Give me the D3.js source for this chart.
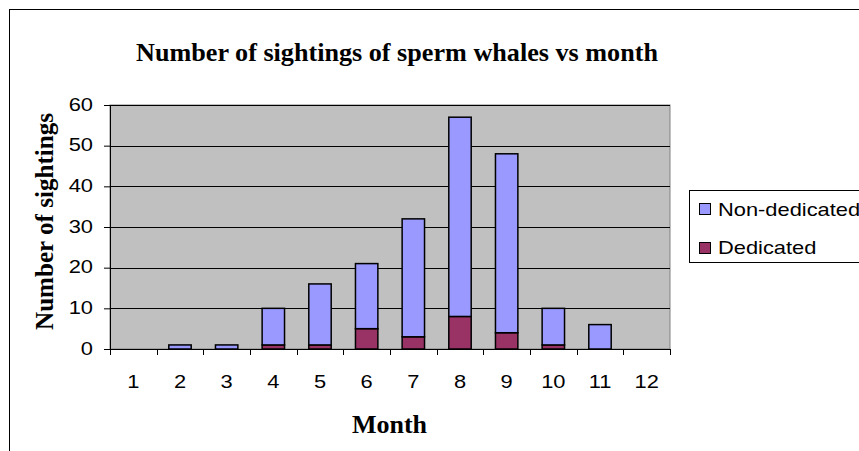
<!DOCTYPE html>
<html><head><meta charset="utf-8">
<script src="https://cdn.jsdelivr.net/npm/d3@7"></script>
<style>body{margin:0;background:#fff}svg{display:block}</style>
</head><body>
<svg id="c" width="859" height="451"></svg>
<script>
const months = ["1","2","3","4","5","6","7","8","9","10","11","12"];
const dedicated = [0,0,0,1,1,5,3,8,4,1,0,0];
const nonDedicated = [0,1,1,9,15,16,29,49,44,9,6,0];
const yTicks = [0,10,20,30,40,50,60];
const seriesNames = ["Non-dedicated","Dedicated"];
const colors = {"Dedicated":"#993366","Non-dedicated":"#9999FF"};

const svg = d3.select("#c");
const L=110, R=670, T=105, B=349;
const sans = "Liberation Sans, Arial, sans-serif";
const stretch = sel => sel.each(function(){
  const w = this.getComputedTextLength();
  d3.select(this).attr("textLength", w*1.15).attr("lengthAdjust","spacingAndGlyphs");
});

svg.append("rect").attr("x",9.5).attr("y",9.5).attr("width",900).attr("height",500)
  .attr("fill","#fff").attr("stroke","#000").attr("stroke-width",1);

const x = d3.scaleBand().domain(months).range([L,R]).paddingInner(0.52).paddingOuter(0.26);
const xb = d3.scaleBand().domain(months).range([L,R]);
const y = d3.scaleLinear().domain([0,60]).range([B,T]);

svg.append("rect").attr("x",L).attr("y",T).attr("width",R-L).attr("height",B-T)
  .attr("fill","#C0C0C0").attr("stroke","#808080").attr("stroke-width",1);

svg.append("g").selectAll("line").data(yTicks.filter(d=>d>0)).join("line")
  .attr("x1",L).attr("x2",R).attr("y1",d=>Math.round(y(d))+0.5).attr("y2",d=>Math.round(y(d))+0.5)
  .attr("stroke","#000").attr("stroke-width",1);

const data = months.map((m,i)=>({m, ded:dedicated[i], non:nonDedicated[i]}));
const stack = d3.stack().keys(["ded","non"])(data);
const keyName = {ded:"Dedicated", non:"Non-dedicated"};
stack.forEach(s=>{
  svg.append("g").selectAll("rect").data(s.filter(d=>d[1]-d[0]>0)).join("rect")
    .attr("x",d=>x(d.data.m)).attr("width",x.bandwidth())
    .attr("y",d=>y(d[1])).attr("height",d=>y(d[0])-y(d[1]))
    .attr("fill",colors[keyName[s.key]]).attr("stroke","#000").attr("stroke-width",1.5);
});

// axes
const yAxis = d3.axisLeft(y).tickValues(yTicks).tickSize(6).tickPadding(11);
const gy = svg.append("g").attr("transform",`translate(${L},0)`).call(yAxis);
gy.select(".domain").attr("stroke","#000");
gy.selectAll("text").attr("font-family",sans).attr("font-size",19).attr("fill","#000").attr("dy","0.28em").call(stretch);

const gx = svg.append("g").attr("transform",`translate(0,${B})`);
gx.append("line").attr("x1",L).attr("x2",R).attr("y1",0.5).attr("y2",0.5).attr("stroke","#000");
gx.selectAll("line.t").data(months.concat(["end"])).join("line").attr("class","t")
  .attr("x1",(d,i)=>Math.round(L+i*xb.bandwidth())+0.5).attr("x2",(d,i)=>Math.round(L+i*xb.bandwidth())+0.5)
  .attr("y1",0).attr("y2",6).attr("stroke","#000");
gx.selectAll("text").data(months).join("text")
  .attr("x",d=>xb(d)+xb.bandwidth()/2).attr("y",39).attr("text-anchor","middle")
  .attr("font-family",sans).attr("font-size",19).text(d=>d).call(stretch);

// titles
const serif = "Liberation Serif, Times New Roman, serif";
svg.append("text").attr("x",397).attr("y",61).attr("text-anchor","middle")
  .attr("font-family",serif).attr("font-weight","bold").attr("font-size",25)
  .attr("textLength",522).attr("lengthAdjust","spacingAndGlyphs")
  .text("Number of sightings of sperm whales vs month");
svg.append("text").attr("x",389.5).attr("y",433).attr("text-anchor","middle")
  .attr("font-family",serif).attr("font-weight","bold").attr("font-size",26)
  .text("Month");
svg.append("text").attr("transform","translate(53,221.5) rotate(-90)").attr("text-anchor","middle")
  .attr("font-family",serif).attr("font-weight","bold").attr("font-size",25)
  .attr("textLength",217).attr("lengthAdjust","spacingAndGlyphs")
  .text("Number of sightings");

// legend
const lg = svg.append("g");
lg.append("rect").attr("x",689.5).attr("y",190.5).attr("width",200).attr("height",72)
  .attr("fill","#fff").attr("stroke","#000");
seriesNames.forEach((n,i)=>{
  lg.append("rect").attr("x",699.5).attr("y",203.5+i*39).attr("width",11).attr("height",11)
    .attr("fill",colors[n]).attr("stroke","#000");
  lg.append("text").attr("x",718).attr("y",216+i*38).attr("font-family",sans)
    .attr("font-size",19).text(n).call(stretch);
});
</script>
</body></html>
